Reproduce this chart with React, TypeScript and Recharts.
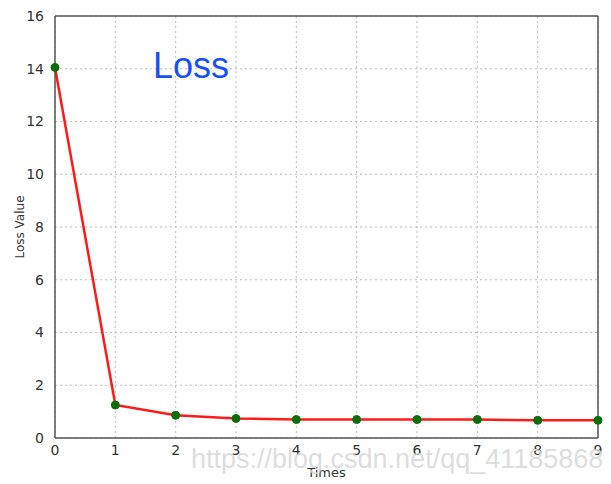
import React from "react";
import { LineChart, Line, XAxis, YAxis, CartesianGrid, ReferenceLine } from "recharts";

const times = [0, 1, 2, 3, 4, 5, 6, 7, 8, 9];
const lossValues = [14.05, 1.25, 0.86, 0.74, 0.7, 0.7, 0.7, 0.7, 0.67, 0.67];
const xTicks = [0, 1, 2, 3, 4, 5, 6, 7, 8, 9];
const yTicks = [0, 2, 4, 6, 8, 10, 12, 14, 16];
const title = "Loss";
const watermark = "https://blog.csdn.net/qq_41185868";

const data = times.map((t, i) => ({ t, v: lossValues[i] }));

const tickStyle = { fill: "#333", fontSize: 14, fontFamily: "DejaVu Sans" };

export default function App() {
  return (
    <div style={{ position: "absolute", left: 0, top: 0, width: 611, height: 484, background: "#fff" }}>
      <LineChart width={611} height={484} data={data} margin={{ top: 16, right: 13, left: 0, bottom: 16 }}>
        <CartesianGrid stroke="#bbb" strokeDasharray="2 3" />
        <XAxis
          dataKey="t"
          type="number"
          domain={[0, 9]}
          ticks={xTicks}
          height={30}
          stroke="#555"
          strokeWidth={1.5}
          tickLine={false}
          tick={tickStyle}
          tickMargin={1}
          label={{ value: "Times", position: "insideBottom", offset: -9, fill: "#333", fontSize: 13, fontFamily: "DejaVu Sans" }}
        />
        <YAxis
          type="number"
          domain={[0, 16]}
          ticks={yTicks}
          width={55}
          stroke="#555"
          strokeWidth={1.5}
          tickLine={false}
          tick={tickStyle}
          tickMargin={5}
          label={{ value: "Loss Value", angle: -90, position: "insideLeft", offset: 20, fill: "#333", fontSize: 12, fontFamily: "DejaVu Sans", style: { textAnchor: "middle" } }}
        />
        <ReferenceLine y={16} stroke="#555" strokeWidth={1.5} />
        <ReferenceLine x={9} stroke="#555" strokeWidth={1.5} />
        <Line
          dataKey="v"
          stroke="#ff1a1a"
          strokeWidth={2.5}
          isAnimationActive={false}
          dot={{ r: 4, fill: "#0a6e0a", stroke: "#0a6e0a", strokeWidth: 1 }}
        />
      </LineChart>
      <div style={{ position: "absolute", left: 153, top: 46, fontFamily: "Liberation Sans", fontSize: 36, color: "#1450f5", lineHeight: "40px" }}>
        {title}
      </div>
      <div style={{ position: "absolute", left: 191, top: 443, fontFamily: "Liberation Sans", fontSize: 27, color: "rgba(215,215,215,0.85)", lineHeight: "32px", whiteSpace: "nowrap" }}>
        {watermark}
      </div>
    </div>
  );
}
